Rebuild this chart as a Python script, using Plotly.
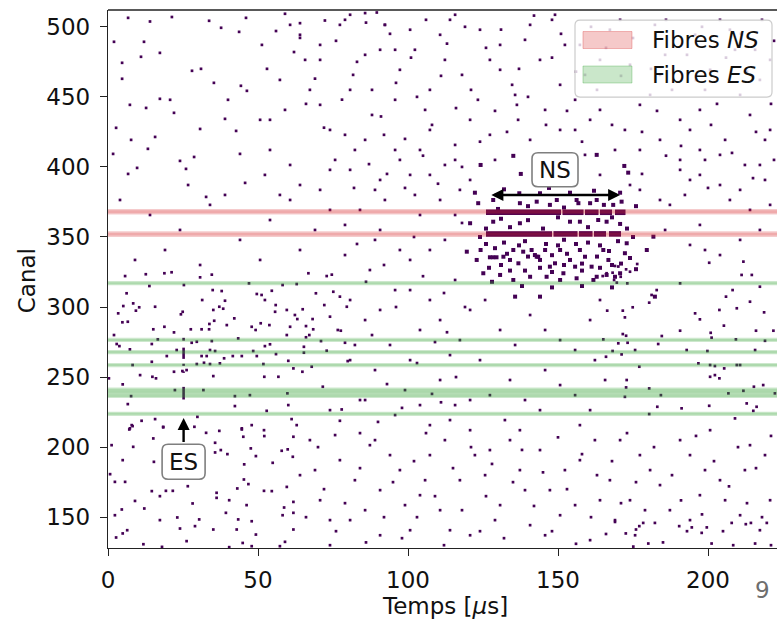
import plotly.graph_objects as go

# ---------------------------------------------------------------- data
T_RANGE = [0, 223]          # time axis, µs
CH_RANGE = [128, 512]       # channel axis

X_TICKS = [0, 50, 100, 150, 200]
Y_TICKS = [150, 200, 250, 300, 350, 400, 450, 500]

# fibre channels highlighted as horizontal bands
ns_fibres = [352, 368]
es_fibres = [223.8, 236.5, 238.8, 241, 258.6, 267.8, 276.5, 317]

# isolated hits (time µs, channel)
hits_upper_left = [
    (6.7, 506.4), (2, 489.3), (12, 489.3), (4.7, 474.3), (11, 478.6), (17.3, 481.4), (21.3, 507),
    (4.7, 462.9), (7.3, 444.3), (12.7, 442.1), (15.7, 421.4), (22, 438.6), (17.3, 448.6), (2.7, 427.9),
    (7.7, 419.3), (13.3, 412.9), (1.7, 409.3), (9.7, 399.3), (6.7, 395), (24, 404.3), (26, 398.6),
    (30.7, 427.1), (33.7, 504.3), (37.7, 499.3), (43.7, 496.4), (46, 506.4), (44.3, 457.9), (39, 434.3),
    (42.7, 425.7), (45.7, 388.6), (32.7, 378.6), (28.7, 407.1), (26.7, 387.1), (44, 409.3), (28, 468.6),
    (31, 470), (35.3, 460), (46.3, 454.3), (40, 447.9), (20.7, 447.9), (14.0, 503.8),
]
hits_upper_mid = [
    (51.3, 487.1), (64.0, 494.3), (70.7, 476.4), (81.7, 465.7), (90.7, 483.6), (100.7, 497.9),
    (107.3, 455.0), (112.3, 476.4), (120.7, 433.6), (130.7, 469.3), (135.7, 451.4), (136.3, 444.3),
    (139.0, 490.7), (145.7, 440.7), (150.7, 458.6), (155.7, 426.4), (164.0, 476.4), (170.7, 505.0),
    (177.3, 444.3), (184.0, 465.7), (194.0, 426.4), (199.0, 455.0), (209.0, 483.6), (214.0, 437.1),
    (219.0, 419.3), (59.0, 440.7), (74.0, 426.4), (85.7, 419.3), (95.7, 447.9), (104.0, 412.1),
    (115.7, 415.7), (127.3, 422.9), (54.0, 412.1), (77.3, 501.4), (124.0, 497.9), (149.0, 508.6),
    (204.0, 505.0), (197.3, 412.1), (177.3, 412.1), (164.0, 440.7), (95.7, 483.6), (67.3, 455.0),
    (50.7, 433.6), (114.0, 505.0), (157.3, 487.1), (59.0, 509.3), (64.0, 502.6), (72.3, 504.5),
    (80.7, 508.6), (85.7, 509.8), (89.6, 510.2), (92.3, 501.4),
    (60.7, 401.4), (70.7, 383.6), (80.7, 397.9), (90.7, 390.7), (97.3, 405.0), (107.3, 394.3),
    (117.3, 383.6), (57.3, 380.0), (75.7, 405.0), (102.3, 380.0), (112.3, 401.4), (197.3, 394.3),
    (210.7, 383.6), (190.7, 405.0), (184.0, 376.4), (204.0, 408.6), (217.3, 401.4), (174.0, 387.1),
    (64.0, 492.1), (65.7, 476.4), (79.0, 505.0), (80.7, 455.0), (88.0, 437.1), (92.0, 422.9),
    (97.3, 469.3), (105.7, 440.7), (110.7, 494.3), (118.0, 465.7), (123.3, 447.9), (130.7, 487.1),
    (134.7, 458.6), (136.7, 433.6), (140.7, 419.3), (144.0, 476.4), (148.0, 505.0), (150.7, 426.4),
    (155.7, 447.9), (159.0, 465.7), (167.3, 497.9), (172.3, 426.4), (180.7, 451.4), (185.7, 480.0),
    (190.7, 433.6), (195.7, 494.3), (200.7, 469.3), (205.7, 419.3), (210.7, 451.4), (217.3, 462.1),
    (220.7, 426.4), (57.3, 462.1), (52.3, 394.3), (64.0, 387.1), (74.0, 397.9), (82.3, 412.1),
    (89.0, 383.6), (100.7, 394.3), (110.7, 376.4), (115.7, 405.0), (120.7, 390.7), (164.0, 394.3),
    (169.0, 412.1), (177.3, 383.6), (192.3, 380.0), (204.0, 387.1), (212.3, 401.4), (219.0, 390.7),
    (60.7, 501.4), (70.7, 487.1), (85.7, 480.0), (92.3, 501.4), (102.3, 483.6), (115.7, 508.6),
    (127.3, 476.4), (140.7, 501.4), (152.3, 487.1), (160.7, 433.6), (174.0, 472.9), (182.3, 501.4),
    (197.3, 440.7), (207.3, 497.9), (215.7, 483.6), (54.0, 433.6), (70.7, 444.3), (79.0, 422.9),
    (95.7, 412.1), (107.3, 426.4), (129.0, 405.0), (145.7, 401.4), (159.0, 408.6), (184.0, 419.3),
    (199.0, 405.0), (220.7, 476.4),
]
hits_upper_right = [
    (53, 470), (56, 497), (62, 482), (66, 445), (69, 463), (72, 428), (76, 490), (78, 448),
    (83, 475), (86, 503), (88, 455), (91, 436), (94, 495), (96, 460), (99, 420), (101, 478),
    (103, 450), (106, 505), (108, 430), (111, 465), (113, 488), (116, 442), (119, 500), (121, 455),
    (124, 418), (126, 485), (129, 440), (131, 498), (133, 425), (137, 470), (140, 450), (142, 508),
    (146, 430), (148, 478), (151, 495), (153, 440), (156, 468), (158, 418), (161, 500), (163, 455),
    (166, 485), (168, 430), (171, 465), (175, 492), (178, 425), (181, 470), (183, 440), (186, 505),
    (188, 455), (191, 415), (193, 480), (196, 462), (198, 500), (201, 430), (203, 445), (206, 478),
    (208, 410), (211, 495), (213, 468), (216, 425), (218, 505), (221, 445), (222, 490),
    (82, 385), (87, 402), (93, 395), (99, 385), (105, 408), (110, 388), (118, 400), (178, 395),
    (186, 408), (200, 385), (215, 392), (222, 405),
]
hits_middle = [
    (84.0, 369.3), (90.7, 355.0), (97.3, 340.7), (104.0, 365.7), (112.3, 347.9), (87.3, 326.4),
    (95.7, 312.1), (107.3, 305.0), (115.7, 319.3), (85.7, 290.7), (94.0, 272.9), (104.0, 283.6),
    (114.0, 265.7), (89.0, 255.0), (99.0, 240.7), (110.7, 247.9), (84.0, 233.6), (95.7, 222.9),
    (107.3, 215.7), (115.7, 230.0), (92.3, 376.4), (100.7, 333.6), (80.7, 262.1),
    (187.3, 372.9), (197.3, 358.6), (207.3, 376.4), (217.3, 355.0), (194.0, 344.3), (204.0, 337.1),
    (214.0, 369.3), (190.7, 397.9),
    (4.0, 376.4), (14.0, 365.7), (24.0, 355.0), (34.0, 372.9), (44.0, 347.9), (54.0, 362.1),
    (64.0, 340.7), (74.0, 369.3), (9.0, 333.6), (19.0, 340.7), (30.7, 330.0), (50.7, 333.6),
    (69.0, 355.0), (79.0, 337.1), (39.0, 380.0), (60.7, 376.4),
    (120.7, 297.9), (130.7, 283.6), (140.7, 294.3), (150.7, 276.4), (160.7, 290.7), (124.0, 262.1),
    (134.0, 247.9), (145.7, 255.0), (155.7, 237.1), (120.7, 233.6), (132.3, 219.3), (144.0, 226.4),
    (157.3, 215.7), (162.3, 262.1),
    (79.0, 358.6), (89.0, 347.9), (107.3, 340.7), (115.7, 365.7), (80.7, 305.0), (90.7, 297.9),
    (100.7, 312.1), (110.7, 290.7), (117.3, 276.4), (82.3, 272.9), (100.7, 262.1), (85.7, 233.6),
    (104.0, 230.0), (114.0, 219.3), (125.7, 305.0), (135.7, 272.9), (145.7, 283.6), (155.7, 269.3),
    (164.0, 305.0), (127.3, 237.1), (139.0, 233.6), (150.7, 244.3), (160.7, 226.4), (120.7, 212.1),
    (137.3, 212.1), (185.7, 355.0), (199.0, 340.7), (210.7, 347.9), (220.7, 372.9), (194.0, 390.7),
    (83, 345), (86, 318), (92, 330), (96, 300), (102, 350), (105, 322), (109, 275), (112, 310),
    (116, 250), (118, 360), (88, 280), (93, 245), (98, 228), (103, 260), (108, 238), (113, 282),
    (119, 300), (84, 210), (90, 218), (111, 232),
]
hits_left_band = [
    (5.7, 322.1), (12.6, 323.4), (18.8, 324.1), (21.2, 324.8), (30.7, 321.2), (34.6, 323.1),
    (66.8, 324.1), (72.9, 322.1), (74.6, 323.1), (13.8, 315.0), (25.3, 315.7), (47.0, 316.9),
    (58.2, 315.7), (62.9, 316.4), (6.2, 309.8), (34.9, 312.1), (37.9, 311.4), (49.6, 309.3),
    (51.2, 308.6), (54.6, 311.6), (69.3, 309.8), (75.1, 310.9), (77.3, 307.4), (31.4, 305.0),
    (39.0, 304.5), (52.3, 305.0), (8.4, 302.6), (5.1, 300.7), (10.4, 299.8), (15.7, 300.2),
    (9.3, 297.4), (24.9, 296.6), (37.1, 300.2), (38.4, 298.8), (35.1, 297.9), (55.9, 301.4),
    (55.7, 296.6), (59.6, 297.9), (62.3, 294.3), (64.9, 298.4), (72.1, 301.4), (79.6, 300.2),
    (42.1, 291.9), (24.3, 294.8), (3.4, 295.5), (63.1, 291.4), (68.2, 291.4), (74.0, 293.1),
    (4.8, 289.1), (6.6, 289.5), (35.4, 290.2), (33.8, 287.9), (50.9, 288.4), (15.1, 284.1),
    (18.8, 285.9), (27.6, 284.1), (31.2, 284.1), (33.7, 284.1), (39.6, 287.1), (47.9, 285.9),
    (49.2, 283.6), (53.8, 287.1), (60.7, 285.9), (66.0, 286.4), (68.4, 284.1), (76.6, 283.6),
    (2.0, 280.0), (22.0, 281.9), (59.6, 280.0), (67.1, 280.0), (77.6, 283.1),
    (2.9, 273.6), (3.8, 272.1), (14.6, 273.6), (16.6, 276.9), (27.9, 274.5), (29.6, 275.2),
    (34.6, 275.7), (43.4, 277.6), (52.3, 272.1), (54.0, 273.4), (65.3, 271.6), (66.0, 278.4),
    (71.0, 275.7), (79.0, 274.5), (7.3, 269.8), (19.6, 265.0), (22.9, 269.3), (31.2, 265.0),
    (32.9, 265.0), (34.0, 269.3), (35.7, 268.6), (38.7, 263.4), (41.6, 265.0), (44.6, 265.0),
    (48.4, 268.6), (49.6, 265.0), (56.0, 266.4), (65.3, 267.4), (72.9, 268.8), (8.2, 258.6),
    (14.6, 260.9), (29.6, 259.3), (32.0, 260.2), (34.0, 259.3), (37.3, 259.8), (51.8, 259.3),
    (60.1, 261.6), (61.8, 256.2), (67.9, 257.4), (79.9, 261.4), (22.0, 253.8), (24.8, 254.3),
    (10.7, 251.4), (14.8, 250.2), (16.0, 249.1), (26.2, 255.0), (35.1, 250.7), (52.1, 250.2),
    (56.8, 250.2), (64.8, 253.8), (0.3, 249.1), (4.9, 244.8), (22.3, 240.7), (7.7, 236.4),
    (31.8, 240.7), (59.8, 238.4), (71.6, 243.1), (42.3, 236.4), (47.3, 237.1), (6.6, 230.7),
    (42.3, 229.3), (52.9, 225.9), (60.1, 230.0), (77.9, 226.9), (74.0, 226.4), (29.8, 221.6),
    (15.7, 220.0), (61.2, 220.0), (11.2, 218.8), (77.3, 218.8), (7.9, 215.7), (18.4, 214.5),
    (28.8, 214.5), (44.6, 213.4), (62.9, 215.7), (7.1, 212.6),
]
hits_right_band = [
    (169.0, 329.3), (170.1, 328.9), (172.7, 326.9), (174.0, 325.2), (176.4, 330.7), (164.9, 322.1),
    (166.2, 324.1), (168.2, 324.5), (170.9, 321.6), (168.7, 319.3), (169.6, 317.4), (190.7, 316.9),
    (173.1, 316.9), (200.4, 331.6), (211.8, 332.4), (211.2, 322.9), (214.6, 322.9), (217.3, 314.5),
    (208.2, 312.1), (182.9, 312.1), (181.2, 308.6), (206.0, 307.4), (180.4, 303.1), (174.9, 299.8),
    (166.4, 297.4), (171.6, 297.4), (172.3, 292.6), (209.6, 299.1), (214.0, 303.8), (203.8, 297.9),
    (195.7, 295.5), (197.3, 291.2), (218.7, 296.2), (190.7, 283.1), (200.9, 281.6), (205.3, 286.7),
    (184.6, 279.3), (171.6, 280.7), (172.7, 279.5), (216.0, 283.1), (221.8, 283.1), (165.1, 276.9),
    (173.2, 274.5), (183.4, 273.6), (209.3, 276.9), (219.0, 275.9), (201.2, 278.1), (170.1, 274.1),
    (168.2, 268.6), (171.2, 266.2), (175.7, 269.3), (192.9, 269.3), (199.8, 268.6), (215.7, 269.3),
    (166.0, 264.5), (196.8, 259.8), (200.7, 258.6), (202.3, 257.9), (205.4, 256.2), (209.6, 258.6),
    (210.7, 258.6), (177.1, 257.4), (200.7, 250.2), (202.3, 251.4), (203.8, 249.1), (165.7, 247.9),
    (172.9, 247.9), (172.7, 242.6), (218.4, 244.3), (215.3, 243.1), (180.4, 241.9), (172.3, 235.9),
    (184.3, 237.1), (206.8, 238.4), (211.8, 240.2), (222.3, 238.4), (200.4, 229.5), (212.9, 231.2),
    (216.2, 228.8), (183.1, 228.8), (191.2, 227.7), (215.1, 225.9), (209.0, 220.5), (180.4, 223.6),
]
hits_lower = [
    (7.3, 213.4), (8.2, 215.0), (18.4, 214.1), (37.1, 211.6), (44.6, 212.6), (47.9, 215.7),
    (52.0, 212.1), (52.1, 207.9), (61.8, 207.4), (45.1, 207.4), (32.7, 210.2), (8.4, 200.2),
    (1.2, 201.4), (15.1, 206.2), (35.7, 203.1), (37.6, 197.9), (39.8, 195.0), (47.6, 199.1),
    (49.3, 193.6), (54.9, 188.8), (57.9, 197.4), (59.9, 198.4), (61.6, 193.1), (4.9, 190.7),
    (15.3, 189.5), (45.4, 187.7), (35.7, 196.2), (0.7, 180.7), (2.3, 175.2), (5.7, 175.2),
    (14.6, 168.6), (19.3, 168.8), (21.6, 168.8), (26.6, 172.1), (36.2, 167.4), (43.1, 170.5),
    (45.3, 176.9), (46.8, 173.6), (52.0, 168.8), (54.6, 168.6), (59.6, 171.6), (9.0, 161.6),
    (17.3, 165.0), (28.2, 159.8), (36.2, 163.8), (40.4, 162.1), (46.2, 158.6), (58.7, 156.9),
    (61.8, 160.9), (12.1, 156.2), (4.6, 155.5), (2.3, 151.4), (17.3, 147.9), (23.1, 149.8),
    (30.4, 148.4), (39.3, 153.1), (43.4, 148.4), (47.9, 147.1), (58.2, 151.4), (61.8, 153.1),
    (2.7, 135.5), (4.9, 138.4), (6.4, 140.7), (11.8, 130.7), (26.2, 132.9), (29.0, 143.6),
    (24.0, 141.9), (35.1, 141.2), (42.9, 141.2), (44.9, 131.6), (49.3, 137.6), (47.9, 129.3),
    (57.3, 129.3), (59.0, 132.4), (61.8, 141.2), (18.0, 128.8), (40.4, 128.6),
    (67.3, 205.0), (77.3, 190.7), (87.3, 201.4), (97.3, 183.6), (107.3, 194.3), (117.3, 176.4),
    (127.3, 197.9), (137.3, 183.6), (147.3, 169.3), (157.3, 190.7), (70.7, 162.1), (80.7, 147.9),
    (90.7, 169.3), (100.7, 140.7), (110.7, 155.0), (120.7, 137.1), (130.7, 158.6), (140.7, 144.3),
    (150.7, 151.4), (160.7, 133.6), (74.0, 130.0), (104.0, 165.7), (125.7, 180.0), (144.0, 197.9),
    (164.0, 162.1), (170.7, 205.0), (180.7, 183.6), (194.0, 194.3), (204.0, 176.4), (214.0, 201.4),
    (220.7, 162.1), (174.0, 162.1), (187.3, 155.0), (200.7, 212.1), (210.7, 151.4), (167.3, 176.4),
    (197.3, 165.7), (178.4, 145.9), (182.3, 145.9), (177.1, 143.6), (176.0, 141.2), (172.6, 138.4),
    (180.1, 131.2), (190.4, 143.6), (194.6, 142.7), (197.9, 138.8), (199.6, 142.7), (201.2, 131.2),
    (207.9, 145.9), (212.6, 145.0), (214.3, 145.9), (219.6, 145.9), (208.4, 130.0), (215.7, 131.2),
    (221.0, 130.0), (169.0, 146.6), (175.1, 129.0),
    (69.0, 183.6), (75.7, 208.6), (82.3, 176.4), (85.7, 155.0), (94.0, 194.3), (99.0, 158.6),
    (105.7, 176.4), (112.3, 205.0), (114.0, 140.7), (122.3, 194.3), (129.0, 147.9), (134.0, 205.0),
    (139.0, 169.3), (145.7, 137.1), (152.3, 183.6), (155.7, 158.6), (162.3, 205.0), (169.0, 147.9),
    (177.3, 194.3), (184.0, 172.9), (190.7, 205.0), (199.0, 183.6), (205.7, 162.1), (212.3, 183.6),
    (219.0, 194.3), (175.7, 137.1), (194.0, 147.9), (217.3, 140.7), (74.0, 147.9), (90.7, 137.1),
]
hits_lower_extra = [
    (64, 180), (66, 150), (70, 200), (72, 170), (76, 140), (79, 160), (84, 185), (86, 132),
    (89, 205), (92, 150), (95, 175), (98, 135), (102, 190), (103, 150), (106, 210), (109, 165),
    (112, 130), (115, 185), (118, 155), (121, 200), (124, 140), (126, 165), (128, 188), (132, 135),
    (135, 175), (138, 198), (142, 158), (145, 182), (148, 140), (150, 207), (153, 170), (156, 131),
    (158, 195), (161, 150), (163, 180), (166, 138), (168, 190), (171, 160), (173, 210), (176, 175),
    (179, 155), (182, 200), (185, 132), (188, 180), (191, 162), (193, 140), (196, 208), (198, 152),
    (202, 190), (205, 140), (207, 172), (210, 200), (213, 160), (216, 185), (218, 150), (221, 208),
]

# hits of the NS event (cluster around the two NS fibres)
ns_cluster = [
    (135.1, 407.9), (124.2, 401.4), (137.6, 395.0), (172.1, 400.7), (173.4, 395.9), (162.9, 408.6),
    (122.3, 381.6), (137.1, 381.2), (144.0, 381.2), (156.2, 376.4), (170.7, 381.6), (128.4, 376.4),
    (154.0, 381.6), (123.4, 374.1), (137.3, 374.1), (156.8, 374.1), (160.7, 374.1), (162.9, 376.4),
    (165.3, 372.9), (168.4, 372.9), (171.2, 375.2), (149.6, 376.4), (147.3, 372.9), (142.9, 375.2),
    (137.3, 359.8), (154.0, 360.9), (157.3, 360.9), (163.4, 362.1), (166.2, 360.9), (170.7, 359.3),
    (120.7, 359.8), (128.4, 360.9), (124.2, 340.7), (127.3, 335.5), (128.4, 335.5), (129.5, 335.5),
    (131.8, 335.9), (134.0, 333.6), (135.1, 340.7), (136.8, 331.2), (138.4, 339.5), (141.2, 340.7),
    (142.3, 337.1), (142.9, 335.9), (143.4, 335.9), (144.0, 333.6), (145.7, 340.7), (147.3, 328.8),
    (149.0, 331.2), (150.7, 340.7), (151.8, 324.1), (154.0, 333.6), (155.7, 328.8), (157.3, 340.7),
    (159.0, 335.9), (161.2, 328.8), (162.9, 321.6), (165.1, 340.7), (166.8, 333.6), (169.0, 321.6),
    (170.7, 324.1), (172.3, 338.4), (172.9, 345.5), (125.1, 324.1), (130.7, 322.9), (135.1, 319.3),
    (140.7, 321.6), (146.2, 321.6), (150.7, 319.3), (156.2, 320.5), (161.8, 319.3), (166.2, 322.9),
    (122.9, 333.6), (119.6, 339.5), (179.6, 340.7), (181.8, 350.2), (182.3, 307.4), (135.7, 307.4),
    (144.0, 307.4),
    (126, 356), (131, 363), (134, 357), (140, 362), (145, 356), (150, 364), (160, 357), (168, 364),
    (173, 356), (126, 345), (129, 342), (132, 346), (133, 338), (137, 344), (139, 347), (140, 336),
    (146, 345), (148, 337), (150, 344), (152, 348), (153, 338), (156, 345), (158, 331), (160, 346),
    (163, 336), (164, 344), (167, 340), (170, 347), (171, 331), (174, 335), (127, 328), (131, 330),
    (134, 326), (139, 326), (144, 328), (148, 325), (152, 330), (158, 326), (164, 328), (168, 330),
    (176, 327), (128, 318), (138, 315), (148, 314), (158, 315), (168, 314), (124, 350), (175, 350),
    (130, 370), (140, 372), (152, 371), (176, 372), (132, 384), (147, 385), (162, 383),
]
# continuous NS tracks along the fibres: channel, [(start, end), ...] in µs
ns_track_ch = [367.6, 352.2]
ns_track_spans = [
    [(126, 151), (151.5, 158.5), (159, 163.5), (164, 168), (169, 172.5)],
    [(126, 148), (148.5, 156.5), (157, 161.5), (162, 166), (167, 171)],
]

# ES event: vertical track at a single time, channel spans
es_time = 25.2
es_ch_lo = [234.0, 253.0, 258.0, 263.0, 276.0]
es_ch_hi = [243.0, 254.0, 259.5, 271.0, 278.0]

# labels and arrows
ns_label = (149, 398)
ns_arrow_t = (127.3, 170.7)
ns_arrow_ch = 380
es_label = (25.2, 189.6)
es_arrow_tip = 220.7
es_arrow_tail = 202.5

# ---------------------------------------------------------------- style
FONT = "DejaVu Sans"
FS = 23
HIT_COLOR = "#440154"
NS_RGB = "214,39,40"
ES_RGB = "44,160,44"

fig = go.Figure()


def add_hits(pairs, size=2.7):
    fig.add_trace(go.Scatter(
        x=[p[0] for p in pairs], y=[p[1] for p in pairs], mode="markers",
        marker=dict(symbol="square", size=size, color=HIT_COLOR, line=dict(width=0)),
        showlegend=False, hoverinfo="skip"))


for group in (hits_upper_left, hits_upper_mid, hits_upper_right, hits_middle, hits_left_band,
              hits_right_band, hits_lower, hits_lower_extra):
    add_hits(group)
add_hits(ns_cluster, size=4.0)

# NS tracks
tx, ty = [], []
for ch, spans in zip(ns_track_ch, ns_track_spans):
    for a, b in spans:
        tx += [a, b, None]
        ty += [ch, ch, None]
fig.add_trace(go.Scatter(x=tx, y=ty, mode="lines", line=dict(color=HIT_COLOR, width=5.5),
                         showlegend=False, hoverinfo="skip"))

# ES track
ex, ey = [], []
for lo, hi in zip(es_ch_lo, es_ch_hi):
    ex += [es_time, es_time, None]
    ey += [lo, hi, None]
fig.add_trace(go.Scatter(x=ex, y=ey, mode="lines", line=dict(color=HIT_COLOR, width=2.6),
                         showlegend=False, hoverinfo="skip"))

shapes = []


def band(c, rgb, hw_out, hw_in):
    for hw, a in ((hw_out, 0.24), (hw_in, 0.2)):
        shapes.append(dict(type="rect", xref="x domain", yref="y", x0=0, x1=1,
                           y0=c - hw, y1=c + hw, fillcolor=f"rgba({rgb},{a})",
                           line=dict(width=0), layer="above"))


for c in ns_fibres:
    band(c, NS_RGB, 2.0, 1.0)
for c in es_fibres:
    band(c, ES_RGB, 1.5, 0.75)


def rounded_path(hw, hh, r):
    return (f"M {-hw + r},{-hh} L {hw - r},{-hh} Q {hw},{-hh} {hw},{-hh + r} "
            f"L {hw},{hh - r} Q {hw},{hh} {hw - r},{hh} L {-hw + r},{hh} "
            f"Q {-hw},{hh} {-hw},{hh - r} L {-hw},{-hh + r} Q {-hw},{-hh} {-hw + r},{-hh} Z")


# label boxes
for (lx, ly), hw, hh in ((ns_label, 23, 17), (es_label, 21.5, 17.5)):
    shapes.append(dict(type="path", xref="x", yref="y", xsizemode="pixel", ysizemode="pixel",
                       xanchor=lx, yanchor=ly, path=rounded_path(hw, hh, 6),
                       fillcolor="white", line=dict(color="#7f7f7f", width=1.6), layer="above"))

# legend frame and patches
shapes.append(dict(type="path", xref="paper", yref="paper", xsizemode="pixel", ysizemode="pixel",
                   xanchor=0.8453, yanchor=0.9098, path=rounded_path(98.5, 38.5, 5),
                   fillcolor="rgba(255,255,255,0.8)", line=dict(color="#cccccc", width=1.2),
                   layer="above"))
for rgb, yanc in ((NS_RGB, 0.9442), (ES_RGB, 0.8801)):
    shapes.append(dict(type="rect", xref="paper", yref="paper", xsizemode="pixel",
                       ysizemode="pixel", xanchor=0.7466, yanchor=yanc,
                       x0=-24.5, x1=24.5, y0=-8.5, y1=8.5,
                       fillcolor=f"rgba({rgb},0.25)", line=dict(color=f"rgba({rgb},0.3)", width=1),
                       layer="above"))

# top spine
shapes.append(dict(type="line", xref="paper", yref="paper", x0=0, x1=1, y0=1, y1=1,
                   line=dict(color="#222222", width=1.4), layer="above"))

TXT = dict(showarrow=False, xanchor="center", yanchor="middle")
annotations = [
    dict(x=ns_label[0], y=ns_label[1], text="NS", xref="x", yref="y",
         font=dict(size=FS, color="#111111"), **TXT),
    dict(x=es_label[0], y=es_label[1], text="ES", xref="x", yref="y",
         font=dict(size=FS, color="#111111"), **TXT),
    dict(x=ns_arrow_t[1], y=ns_arrow_ch, ax=ns_arrow_t[0], ay=ns_arrow_ch, xref="x", yref="y",
         axref="x", ayref="y", text="", showarrow=True, arrowhead=2, arrowside="end+start",
         arrowsize=1.0, arrowwidth=2.4, arrowcolor="black", standoff=0, startstandoff=0),
    dict(x=es_time, y=es_arrow_tip, ax=es_time, ay=es_arrow_tail, xref="x", yref="y",
         axref="x", ayref="y", text="", showarrow=True, arrowhead=2, arrowsize=1.0,
         arrowwidth=2.4, arrowcolor="black", standoff=0),
    dict(x=0.8102, y=0.9442, xref="paper", yref="paper", text="Fibres <i>NS</i>",
         showarrow=False, xanchor="left", yanchor="middle", font=dict(size=FS, color="#111111")),
    dict(x=0.8102, y=0.8801, xref="paper", yref="paper", text="Fibres <i>ES</i>",
         showarrow=False, xanchor="left", yanchor="middle", font=dict(size=FS, color="#111111")),
    dict(x=-0.121, y=0.496, xref="paper", yref="paper", text="Canal", textangle=-90,
         font=dict(size=FS, color="#111111"), **TXT),
    dict(x=0.504, y=-0.108, xref="paper", yref="paper", text="Temps [<i>µ</i>s]",
         font=dict(size=FS, color="#111111"), **TXT),
    dict(x=0.979, y=-0.078, xref="paper", yref="paper", text="9",
         font=dict(size=FS, color="#6e6e6e"), **TXT),
]

axis_common = dict(showgrid=False, zeroline=False, showline=True, linecolor="#222222",
                   linewidth=1.4, ticks="outside", ticklen=7, tickwidth=1.4,
                   tickcolor="#222222", tickfont=dict(size=FS, color="#111111", family=FONT))

fig.update_layout(
    width=777, height=622,
    margin=dict(l=108, r=0, t=10, b=74),
    paper_bgcolor="white", plot_bgcolor="white",
    font=dict(family=FONT, size=FS, color="#111111"),
    xaxis=dict(range=T_RANGE, tickvals=X_TICKS, ticklabelstandoff=4, **axis_common),
    yaxis=dict(range=CH_RANGE, tickvals=Y_TICKS, ticklabelstandoff=5, **axis_common),
    shapes=shapes, annotations=annotations, showlegend=False,
)

fig.write_html("out.html")
